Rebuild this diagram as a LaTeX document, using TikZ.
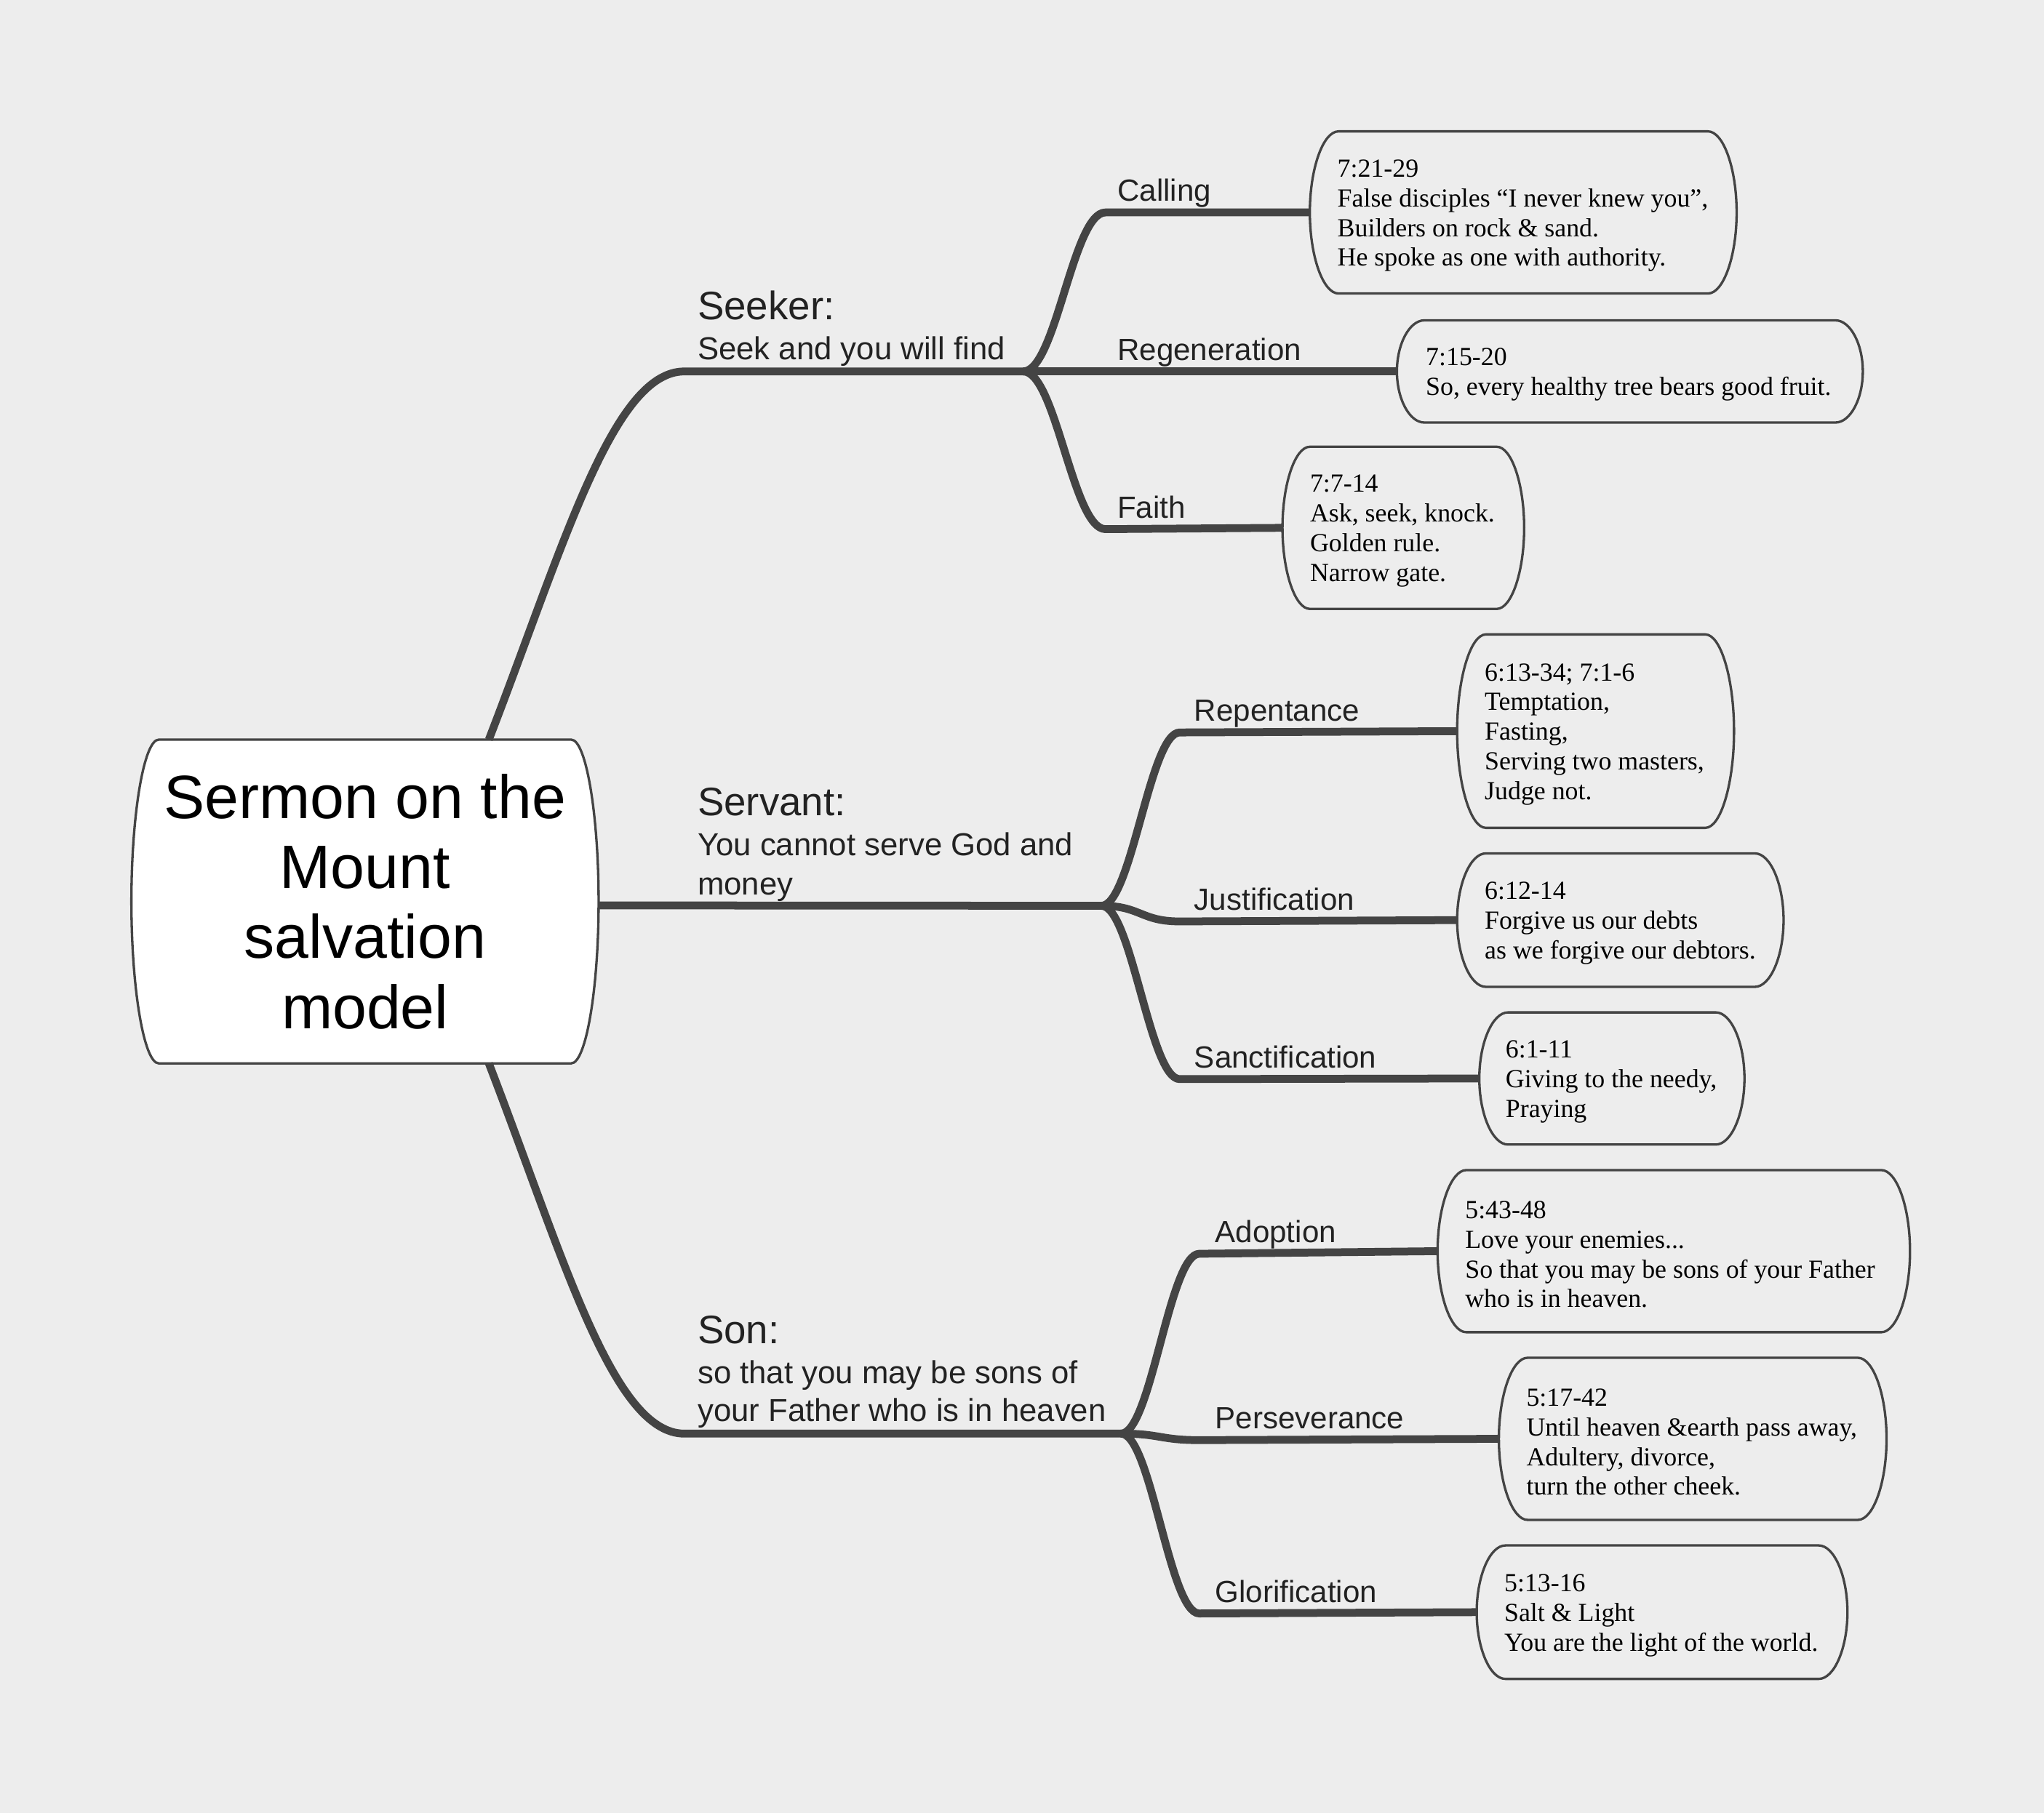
\documentclass[tikz,border=0pt]{standalone}
\usepackage{fontspec}
\setmainfont{Liberation Sans}
\newfontfamily\boxserif{Liberation Serif}
\usetikzlibrary{calc}
\definecolor{bgc}{HTML}{EDEDED}
\definecolor{linec}{HTML}{444444}
\definecolor{txtc}{HTML}{222222}
\pgfdeclarelayer{back}
\pgfdeclarelayer{shapes}
\pgfsetlayers{back,shapes,main}
\newcommand{\bulgebox}[3]{%
\path[#1] ([xshift=#3pt]#2.north west) -- ([xshift=-#3pt]#2.north east)
 .. controls ([xshift=-0.46*#3pt]#2.north east) and ($(#2.north east)!0.46!(#2.east)$) .. (#2.east)
 .. controls ($(#2.south east)!0.46!(#2.east)$) and ([xshift=-0.46*#3pt]#2.south east) .. ([xshift=-#3pt]#2.south east)
 -- ([xshift=#3pt]#2.south west)
 .. controls ([xshift=0.46*#3pt]#2.south west) and ($(#2.south west)!0.46!(#2.west)$) .. (#2.west)
 .. controls ($(#2.north west)!0.46!(#2.west)$) and ([xshift=0.46*#3pt]#2.north west) .. cycle;}
\begin{document}
\begin{tikzpicture}[x=1pt,y=-1pt,
 conn/.style={draw=linec, line width=6pt, line join=round},
 boxline/.style={draw=linec, line width=1.85pt},
 boxnode/.style={rectangle, inner sep=0pt},
 leaftext/.style={inner sep=0pt, align=left, anchor=west, font=\boxserif\fontsize{20}{22.8}\selectfont, text=black},
 headtext/.style={inner sep=0pt, anchor=base west, font=\fontsize{30.5}{36}\selectfont, text=txtc},
 subtext/.style={inner sep=0pt, anchor=base west, font=\fontsize{24.4}{29.8}\selectfont, text=txtc},
 labeltext/.style={inner sep=0pt, anchor=base west, font=\fontsize{23.5}{28}\selectfont, text=txtc}]
\useasboundingbox (0,0) rectangle (1568,1391);
\begin{pgfonlayer}{back}
\fill[bgc] (0,0) rectangle (1568,1391);
\end{pgfonlayer}

% central node
\node[boxnode, minimum width=358pt, minimum height=248pt, align=center,
      font=\fontsize{47}{53.8}\selectfont, text=black] (title) at (280,691.7)
      {Sermon on the\\Mount\\salvation\\model};

% leaf boxes
\node[boxnode, minimum width=327pt, minimum height=124pt] (b1) at (1168.5,163) {};
\node[boxnode, minimum width=357pt, minimum height=78pt]  (b2) at (1250.3,285) {};
\node[boxnode, minimum width=185pt, minimum height=124pt] (b3) at (1076.5,405) {};
\node[boxnode, minimum width=212pt, minimum height=148pt] (b4) at (1224,561) {};
\node[boxnode, minimum width=250pt, minimum height=102pt] (b5) at (1243,706) {};
\node[boxnode, minimum width=203pt, minimum height=101pt] (b6) at (1236.5,827.5) {};
\node[boxnode, minimum width=362pt, minimum height=124pt] (b7) at (1284,960) {};
\node[boxnode, minimum width=297pt, minimum height=124pt] (b8) at (1298.5,1104) {};
\node[boxnode, minimum width=284pt, minimum height=102pt] (b9) at (1275,1237) {};

\begin{pgfonlayer}{shapes}
\bulgebox{boxline, fill=white}{title}{21}
\bulgebox{boxline}{b1}{22}
\bulgebox{boxline}{b2}{21}
\bulgebox{boxline}{b3}{21}
\bulgebox{boxline}{b4}{22}
\bulgebox{boxline}{b5}{22}
\bulgebox{boxline}{b6}{22}
\bulgebox{boxline}{b7}{22}
\bulgebox{boxline}{b8}{22}
\bulgebox{boxline}{b9}{22}
\end{pgfonlayer}

% leaf texts
\node[leaftext] (t1) at ([xshift=21pt,yshift=-2.5pt]b1.west) {7:21-29\\False disciples “I never knew you”,\\Builders on rock \& sand.\\He spoke as one with authority.};
\node[leaftext] (t2) at ([xshift=22pt,yshift=-2.5pt]b2.west) {7:15-20\\So, every healthy tree bears good fruit.};
\node[leaftext] (t3) at ([xshift=21pt,yshift=-2.5pt]b3.west) {7:7-14\\Ask, seek, knock.\\Golden rule.\\Narrow gate.};
\node[leaftext] (t4) at ([xshift=21pt,yshift=-2.5pt]b4.west) {6:13-34; 7:1-6\\Temptation,\\Fasting,\\Serving two masters,\\Judge not.};
\node[leaftext] (t5) at ([xshift=21pt,yshift=-2.5pt]b5.west) {6:12-14\\Forgive us our debts\\as we forgive our debtors.};
\node[leaftext] (t6) at ([xshift=20pt,yshift=-2.5pt]b6.west) {6:1-11\\Giving to the needy,\\Praying};
\node[leaftext] (t7) at ([xshift=21pt,yshift=-2.5pt]b7.west) {5:43-48\\Love your enemies...\\So that you may be sons of your Father\\who is in heaven.};
\node[leaftext] (t8) at ([xshift=21pt,yshift=-2.5pt]b8.west) {5:17-42\\Until heaven \&earth pass away,\\Adultery, divorce,\\turn the other cheek.};
\node[leaftext] (t9) at ([xshift=21pt,yshift=-2.5pt]b9.west) {5:13-16\\Salt \& Light\\You are the light of the world.};

% junctions
\coordinate (jSeek) at (785,285);
\coordinate (jServ) at (845,695);
\coordinate (jSon) at (860,1100);

% main branches
\draw[conn] ([xshift=95pt]title.north) .. controls (432,420) and (470,285) .. (525,285) -- (jSeek);
\draw[conn] ([yshift=-3pt]title.east) -- (jServ);
\draw[conn] ([xshift=95pt]title.south) .. controls (432,964) and (470,1100) .. (525,1100) -- (jSon);

% seeker children
\draw[conn] (jSeek) .. controls (810,285) and (823,163) .. (848,163) -- (b1.west);
\draw[conn] (jSeek) -- (b2.west);
\draw[conn] (jSeek) .. controls (810,285) and (823,406) .. (848,406) -- (b3.west);
% servant children
\draw[conn] (jServ) .. controls (868,695) and (882,562) .. (905,562) -- (b4.west);
\draw[conn] (jServ) .. controls (875,695) and (875,707) .. (905,707) -- (b5.west);
\draw[conn] (jServ) .. controls (868,695) and (882,828) .. (905,828) -- (b6.west);
% son children
\draw[conn] (jSon) .. controls (883,1100) and (897,962) .. (920,962) -- (b7.west);
\draw[conn] (jSon) .. controls (890,1100) and (890,1105) .. (920,1105) -- (b8.west);
\draw[conn] (jSon) .. controls (883,1100) and (897,1238) .. (920,1238) -- (b9.west);

% headings
\node[headtext] (h1) at (535,245.5) {Seeker:};
\node[subtext] (s1) at (535,275.8) {Seek and you will find};
\node[headtext] (h2) at (535,626) {Servant:};
\node[subtext] (s2a) at (535,656.6) {You cannot serve God and};
\node[subtext] (s2b) at (535,686.4) {money};
\node[headtext] (h3) at (535,1031) {Son:};
\node[subtext] (s3a) at (535,1061.8) {so that you may be sons of};
\node[subtext] (s3b) at (535,1090.4) {your Father who is in heaven};

% branch labels
\node[labeltext] (l1) at (857,154.3) {Calling};
\node[labeltext] (l2) at (857,276.3) {Regeneration};
\node[labeltext] (l3) at (857,397.3) {Faith};
\node[labeltext] (l4) at (916,553.3) {Repentance};
\node[labeltext] (l5) at (916,698.3) {Justification};
\node[labeltext] (l6) at (916,819.3) {Sanctification};
\node[labeltext] (l7) at (932,953.3) {Adoption};
\node[labeltext] (l8) at (932,1096.3) {Perseverance};
\node[labeltext] (l9) at (932,1229.3) {Glorification};
\end{tikzpicture}
\end{document}
